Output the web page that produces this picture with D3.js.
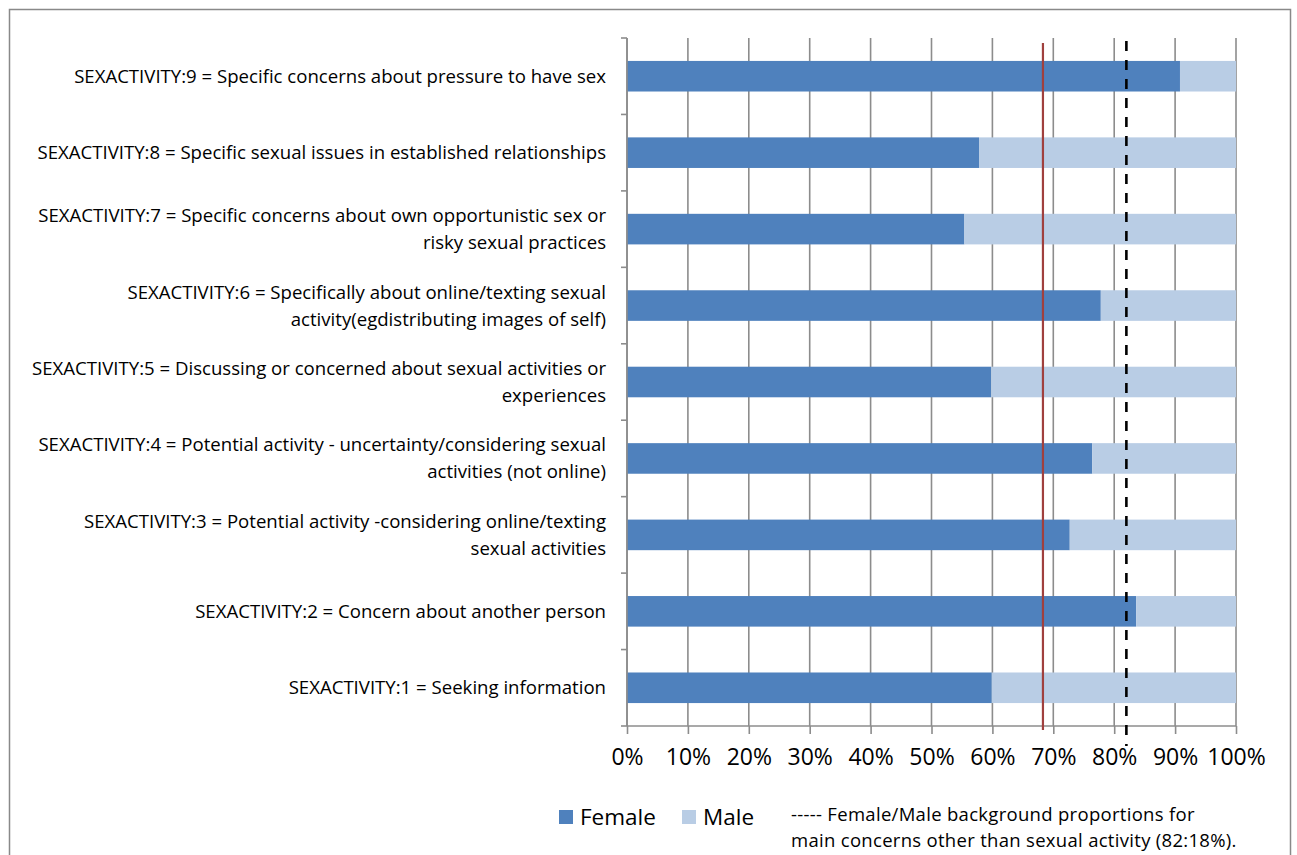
<!DOCTYPE html>
<html>
<head>
<meta charset="utf-8">
<script src="https://cdn.jsdelivr.net/npm/d3@7"></script>
<style>
  body { margin: 0; background: #fff; }
  svg { display: block; }
  .cat text { font-family: "Open Sans", sans-serif; font-size: 18.6px; fill: #000; }
  .xaxis text { font-family: "Open Sans", sans-serif; font-size: 23px; fill: #000; }
  .legend text { font-family: "Open Sans", sans-serif; fill: #000; }
</style>
</head>
<body>
<div id="chart"></div>
<script>
// frame sizes
const FRAME_WIDTH = 1297;
const FRAME_HEIGHT = 855;
const MARGINS = {left: 627, right: 61, top: 38, bottom: 129};

const VIS_WIDTH = FRAME_WIDTH - MARGINS.left - MARGINS.right;
const VIS_HEIGHT = FRAME_HEIGHT - MARGINS.top - MARGINS.bottom;

// categories, top to bottom ("|" marks a line break)
const categories = [
  "SEXACTIVITY:9 = Specific concerns about pressure to have sex",
  "SEXACTIVITY:8 = Specific sexual issues in established relationships",
  "SEXACTIVITY:7 = Specific concerns about own opportunistic sex or|risky sexual practices",
  "SEXACTIVITY:6 = Specifically about online/texting sexual|activity(egdistributing images of self)",
  "SEXACTIVITY:5 = Discussing or concerned about sexual activities or|experiences",
  "SEXACTIVITY:4 = Potential activity - uncertainty/considering sexual|activities (not online)",
  "SEXACTIVITY:3 = Potential activity -considering online/texting|sexual activities",
  "SEXACTIVITY:2 = Concern about another person",
  "SEXACTIVITY:1 = Seeking information"
];
// percent female per category (male = 100 - female)
const female = [90.8, 57.8, 55.4, 77.8, 59.8, 76.4, 72.7, 83.6, 59.9];
const male = female.map(d => 100 - d);

const xTicks = [0, 10, 20, 30, 40, 50, 60, 70, 80, 90, 100];
const redLine = 68.3;      // solid red reference
const dashedLine = 82;     // background proportion 82:18

const FRAME = d3.select("#chart")
  .append("svg")
  .attr("width", FRAME_WIDTH)
  .attr("height", FRAME_HEIGHT);

// outer chart border
FRAME.append("rect")
  .attr("x", 9.5).attr("y", 9.5)
  .attr("width", 1281).attr("height", 870)
  .attr("fill", "none")
  .attr("stroke", "#898989")
  .attr("stroke-width", 1.5);

const X_SCALE = d3.scaleLinear().domain([0, 100]).range([0, VIS_WIDTH]);
const Y_SCALE = d3.scaleBand().domain(categories).range([0, VIS_HEIGHT])
  .paddingInner(0.6).paddingOuter(0.3);

const g = FRAME.append("g")
  .attr("transform", "translate(" + MARGINS.left + "," + MARGINS.top + ")");

// vertical gridlines
g.selectAll(".grid")
  .data(xTicks)
  .enter()
  .append("line")
    .attr("x1", d => X_SCALE(d)).attr("x2", d => X_SCALE(d))
    .attr("y1", 0).attr("y2", VIS_HEIGHT)
    .attr("stroke", "#8c8c8c")
    .attr("stroke-width", 1.6);

// stacked bars
const rows = categories.map((c, i) => ({cat: c, f: female[i], m: male[i]}));

g.selectAll(".fbar")
  .data(rows)
  .enter()
  .append("rect")
    .attr("x", X_SCALE(0))
    .attr("y", d => Y_SCALE(d.cat))
    .attr("width", d => X_SCALE(d.f) - X_SCALE(0))
    .attr("height", Y_SCALE.bandwidth())
    .attr("fill", "#4f81bd");

g.selectAll(".mbar")
  .data(rows)
  .enter()
  .append("rect")
    .attr("x", d => X_SCALE(d.f))
    .attr("y", d => Y_SCALE(d.cat))
    .attr("width", d => X_SCALE(d.f + d.m) - X_SCALE(d.f))
    .attr("height", Y_SCALE.bandwidth())
    .attr("fill", "#b9cde5");

// left axis line and category ticks
const step = VIS_HEIGHT / categories.length;
g.append("line")
  .attr("x1", 0).attr("x2", 0).attr("y1", 0).attr("y2", VIS_HEIGHT)
  .attr("stroke", "#8c8c8c").attr("stroke-width", 1.6);
g.selectAll(".ytick")
  .data(d3.range(categories.length + 1))
  .enter()
  .append("line")
    .attr("x1", -6).attr("x2", 0)
    .attr("y1", d => d * step).attr("y2", d => d * step)
    .attr("stroke", "#8c8c8c").attr("stroke-width", 1.6);

// bottom axis
const xAxis = g.append("g")
  .attr("class", "xaxis")
  .attr("transform", "translate(0," + VIS_HEIGHT + ")")
  .call(d3.axisBottom(X_SCALE).tickValues(xTicks).tickSize(8).tickPadding(15)
    .tickFormat(d => d + "%"));
xAxis.selectAll("line, path").attr("stroke", "#8c8c8c").attr("stroke-width", 1.6);
xAxis.select("path").attr("d", "M0,0H" + VIS_WIDTH);

// category labels
const cats = g.append("g").attr("class", "cat");
categories.forEach(c => {
  const lines = c.split("|");
  const cy = Y_SCALE(c) + Y_SCALE.bandwidth() / 2;
  const t = cats.append("text")
    .attr("text-anchor", "end")
    .attr("x", -21)
    .attr("y", cy - (lines.length - 1) * 13.5)
    .attr("dy", "0.35em");
  lines.forEach((l, j) => {
    t.append("tspan").attr("x", -21).attr("dy", j === 0 ? "0.35em" : 27).text(l);
  });
});

// reference lines
g.append("line")
  .attr("x1", X_SCALE(redLine)).attr("x2", X_SCALE(redLine))
  .attr("y1", 5).attr("y2", VIS_HEIGHT + 4)
  .attr("stroke", "#a0403e").attr("stroke-width", 2.2);

g.append("line")
  .attr("x1", X_SCALE(dashedLine)).attr("x2", X_SCALE(dashedLine))
  .attr("y1", 3).attr("y2", VIS_HEIGHT + 20)
  .attr("stroke", "#000").attr("stroke-width", 2.6)
  .attr("stroke-dasharray", "10,9");

// legend
const legend = FRAME.append("g").attr("class", "legend");
const legendItems = [
  {label: "Female", color: "#4f81bd", x: 559},
  {label: "Male", color: "#b9cde5", x: 682}
];
legendItems.forEach(d => {
  legend.append("rect")
    .attr("x", d.x).attr("y", 810).attr("width", 14).attr("height", 14)
    .attr("fill", d.color);
  legend.append("text")
    .attr("x", d.x + 21).attr("y", 825)
    .attr("font-size", "22.5px")
    .text(d.label);
});
legend.append("text")
  .attr("x", 791).attr("y", 821)
  .attr("font-size", "18.5px")
  .attr("letter-spacing", "0.3px")
  .text("----- Female/Male background proportions for");
legend.append("text")
  .attr("x", 791).attr("y", 847)
  .attr("font-size", "18.5px")
  .attr("letter-spacing", "0.3px")
  .text("main concerns other than sexual activity (82:18%).");
</script>
</body>
</html>
